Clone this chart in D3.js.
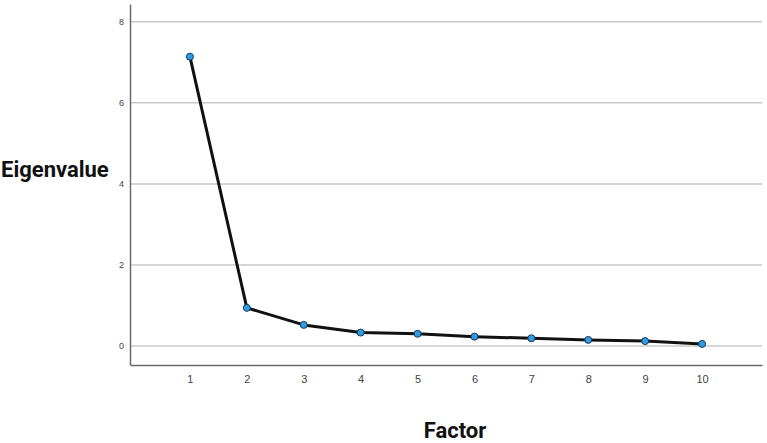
<!DOCTYPE html>
<html>
<head>
<meta charset="utf-8">
<script src="https://cdn.jsdelivr.net/npm/d3@7"></script>
<style>
  body { margin: 0; background: #fff; }
</style>
</head>
<body>
<div id="chart"></div>
<script>
// Dados do scree plot
const fatores = [1, 2, 3, 4, 5, 6, 7, 8, 9, 10];
const autovalores = [7.14, 0.94, 0.52, 0.33, 0.30, 0.23, 0.19, 0.15, 0.12, 0.05];
const yTicks = [0, 2, 4, 6, 8];

const width = 767;
const height = 443;
const marginLeft = 130;
const marginRight = 5;
const marginTop = 4;
const marginBottom = 78;

const x = d3.scaleLinear().domain([-0.053, 11.053]).range([marginLeft, width - marginRight]);
const y = d3.scaleLinear().domain([-0.47, 8.44]).range([height - marginBottom, marginTop]);

const svg = d3.select("#chart")
    .append("svg")
    .attr("width", width)
    .attr("height", height);

// Linhas de grade
svg.append("g")
    .selectAll("line")
    .data(yTicks)
    .enter()
    .append("line")
    .attr("x1", marginLeft)
    .attr("x2", width - marginRight)
    .attr("y1", d => y(d))
    .attr("y2", d => y(d))
    .attr("stroke", "#c8c8c8")
    .attr("stroke-width", 1.5);

// Eixo Y
const eixoY = svg.append("g")
    .attr("transform", `translate(${marginLeft},0)`)
    .call(d3.axisLeft(y).tickValues(yTicks).tickSize(0).tickPadding(6));
eixoY.select(".domain").attr("stroke", "#6a6a6a").attr("stroke-width", 1.5);
eixoY.selectAll("text").attr("font-family", "Arial, 'Liberation Sans', sans-serif").attr("font-size", 9).attr("fill", "#444");

// Eixo X
const eixoX = svg.append("g")
    .attr("transform", `translate(0,${height - marginBottom})`)
    .call(d3.axisBottom(x).tickValues(fatores).tickFormat(d3.format("d")).tickSize(0).tickPadding(10));
eixoX.select(".domain").attr("stroke", "#6a6a6a").attr("stroke-width", 1.5);
eixoX.selectAll("text").attr("font-family", "Arial, 'Liberation Sans', sans-serif").attr("font-size", 11).attr("fill", "#444");

// Linha
const linha = d3.line()
    .x((d, i) => x(fatores[i]))
    .y(d => y(d));

svg.append("path")
    .datum(autovalores)
    .attr("fill", "none")
    .attr("stroke", "#111")
    .attr("stroke-width", 3)
    .attr("stroke-linejoin", "round")
    .attr("d", linha);

// Pontos
svg.selectAll(".ponto")
    .data(autovalores)
    .enter()
    .append("circle")
    .attr("cx", (d, i) => x(fatores[i]))
    .attr("cy", d => y(d))
    .attr("r", 3.5)
    .attr("fill", "#2a9de6")
    .attr("stroke", "#1d3550")
    .attr("stroke-width", 1);

// Títulos dos eixos
svg.append("text")
    .attr("x", 1)
    .attr("y", 177)
    .attr("font-family", "Roboto, sans-serif")
    .attr("font-weight", 700)
    .attr("font-size", 22)
    .attr("fill", "#111")
    .text("Eigenvalue");

svg.append("text")
    .attr("x", 455)
    .attr("y", 438)
    .attr("text-anchor", "middle")
    .attr("font-family", "Roboto, sans-serif")
    .attr("font-weight", 700)
    .attr("font-size", 22)
    .attr("fill", "#111")
    .text("Factor");
</script>
</body>
</html>
